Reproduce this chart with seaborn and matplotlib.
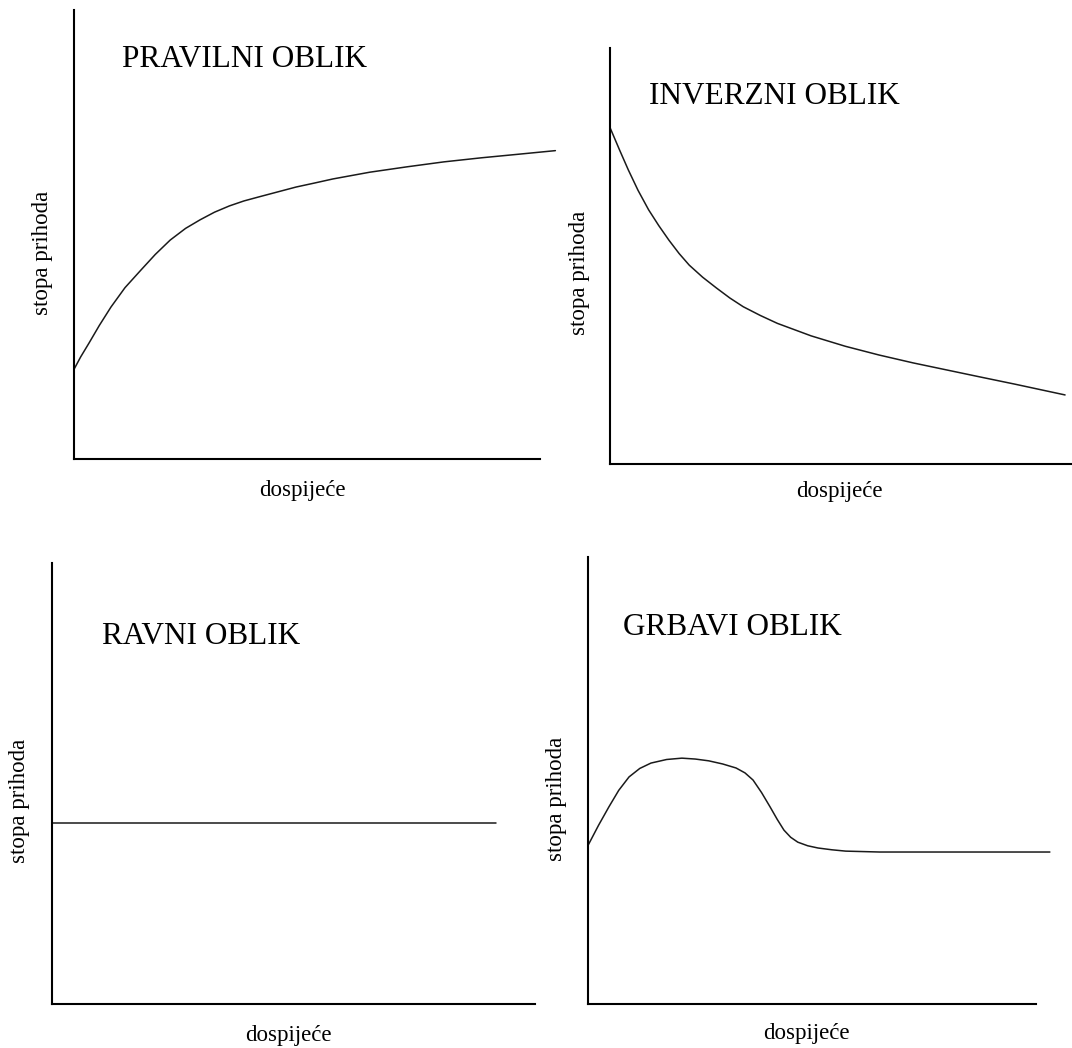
import matplotlib
matplotlib.use("Agg")
import matplotlib.pyplot as plt
import seaborn as sns
import pandas as pd

# ---- data (units 0..10 along each axis) ----
titles = ["PRAVILNI OBLIK", "INVERZNI OBLIK", "RAVNI OBLIK", "GRBAVI OBLIK"]
x_label = "dospijeće"
y_label = "stopa prihoda"

normal_x = [0, 0.15, 0.33, 0.55, 0.80, 1.10, 1.44, 1.75, 2.07, 2.40, 2.71, 3.02, 3.34,
            3.65, 3.97, 4.37, 4.77, 5.17, 5.56, 6.35, 7.15, 7.94, 8.74, 9.54, 10.33]
normal_y = [1.99, 2.28, 2.59, 2.98, 3.39, 3.82, 4.21, 4.56, 4.88, 5.14, 5.33, 5.50, 5.64,
            5.75, 5.84, 5.95, 6.06, 6.15, 6.24, 6.39, 6.51, 6.62, 6.71, 6.79, 6.87]

inverse_x = [0, 0.20, 0.39, 0.60, 0.83, 1.05, 1.27, 1.49, 1.71, 2.00, 2.30, 2.59, 2.88,
             3.25, 3.62, 4.35, 5.09, 5.82, 6.56, 7.29, 8.02, 8.76, 9.85]
inverse_y = [8.07, 7.55, 7.07, 6.58, 6.11, 5.73, 5.38, 5.06, 4.78, 4.49, 4.23, 3.99, 3.78,
             3.57, 3.38, 3.08, 2.83, 2.62, 2.43, 2.26, 2.09, 1.92, 1.66]

flat_x = [0, 9.19]
flat_y = [4.10, 4.10]

humped_x = [0, 0.23, 0.46, 0.68, 0.91, 1.15, 1.40, 1.75, 2.09, 2.39, 2.69, 3.00, 3.30,
            3.50, 3.68, 3.87, 4.06, 4.22, 4.37, 4.52, 4.68, 4.90, 5.13, 5.44, 5.75, 6.51, 10.31]
humped_y = [3.56, 4.00, 4.41, 4.78, 5.08, 5.27, 5.39, 5.47, 5.50, 5.48, 5.44, 5.37, 5.28,
            5.17, 5.01, 4.73, 4.41, 4.13, 3.89, 3.73, 3.62, 3.54, 3.49, 3.45, 3.42, 3.40, 3.40]

series = [(normal_x, normal_y), (inverse_x, inverse_y), (flat_x, flat_y), (humped_x, humped_y)]

# ---- layout (pixels in a 1072 x 1048 canvas) ----
W, H = 1072, 1048
# (left, top, right, bottom) of the axis spines
boxes = [(73.7, 10, 540, 459.3),
         (610.3, 48, 1072, 464),
         (52.3, 563, 535, 1004),
         (588.3, 557, 1036, 1004)]
title_pos = [(121.5, 67), (648.6, 104), (102, 644), (623, 635)]
xlab_frac = [0.49, 0.497, 0.49, 0.488]
xlab_off = [31, 28, 31, 29]
ylab_off = [31, 31, 33, 32]

sns.set_theme(style="white")
plt.rcParams['font.family'] = ['Liberation Serif', 'DejaVu Serif']

fig = plt.figure(figsize=(W / 100, H / 100), dpi=100)
fig.patch.set_facecolor("white")

for i, (l, t, r, b) in enumerate(boxes):
    ax = fig.add_axes([l / W, 1 - b / H, (r - l) / W, (b - t) / H])
    xs, ys = series[i]
    df = pd.DataFrame({"x": xs, "y": ys})
    sns.lineplot(data=df, x="x", y="y", ax=ax, sort=False, estimator=None,
                 color="#1a1a1a", linewidth=1.1, clip_on=False)
    ax.set_xlim(0, 10)
    ax.set_ylim(0, 10)
    ax.set_xticks([])
    ax.set_yticks([])
    ax.set_xlabel("")
    ax.set_ylabel("")
    for s in ["top", "right"]:
        ax.spines[s].set_visible(False)
    for s in ["left", "bottom"]:
        ax.spines[s].set_color("black")
        ax.spines[s].set_linewidth(1.5)
    ax.patch.set_alpha(0)

    # title inside the panel
    tx, ty = title_pos[i]
    fig.text(tx / W, 1 - ty / H, titles[i], ha="left", va="baseline",
             fontsize=22.5, color="black")
    # x label
    xl = l + xlab_frac[i] * (r - l)
    fig.text(xl / W, 1 - (b + xlab_off[i]) / H, x_label, ha="center", va="center",
             fontsize=16.5, color="black")
    # y label
    yl = b - 0.46 * (b - t)
    fig.text((l - ylab_off[i]) / W, 1 - yl / H, y_label, ha="center", va="center",
             rotation=90, fontsize=16.5, color="black")

fig.savefig("out.png", dpi=100, facecolor="white")
